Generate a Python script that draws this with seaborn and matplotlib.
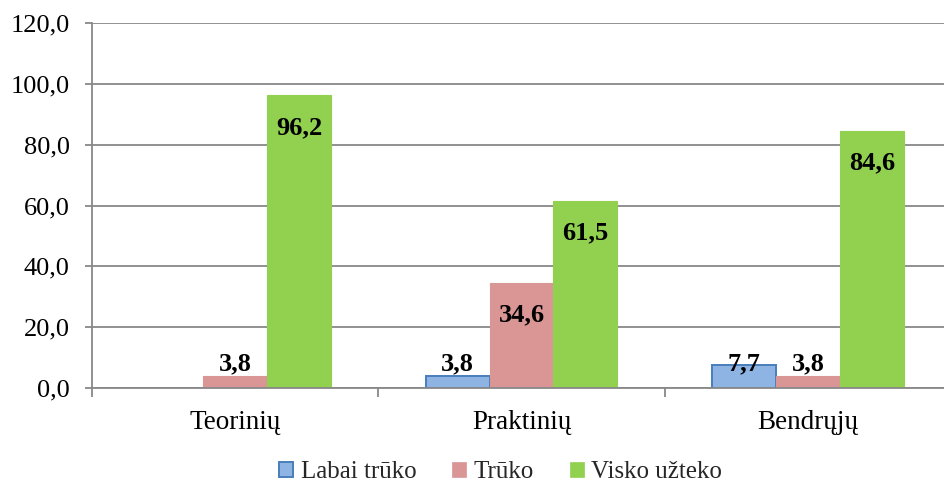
import matplotlib
matplotlib.use("Agg")
import matplotlib.pyplot as plt
import seaborn as sns
import pandas as pd
from matplotlib.patches import Patch
from matplotlib.ticker import FixedLocator

categories = ["Teorinių", "Praktinių", "Bendrųjų"]
series = ["Labai trūko", "Trūko", "Visko užteko"]
labai_truko = [0.0, 3.8, 7.7]
truko = [3.8, 34.6, 3.8]
visko_uzteko = [96.2, 61.5, 84.6]
y_ticks = [0, 20, 40, 60, 80, 100, 120]

fill_colors = ["#8EB4E3", "#D99694", "#92D050"]
edge_colors = ["#4A7EBB", "#D99694", "#92D050"]

rows = []
for s, vals in zip(series, [labai_truko, truko, visko_uzteko]):
    for c, v in zip(categories, vals):
        rows.append({"cat": c, "series": s, "val": v})
df = pd.DataFrame(rows)

sns.set_theme(style="white")
plt.rcParams["font.family"] = ["Liberation Serif", "DejaVu Serif"]

fig = plt.figure(figsize=(9.45, 4.91), dpi=100)
ax = fig.add_axes([92 / 945, 1 - 388 / 491, 859 / 945, 365 / 491])

sns.barplot(data=df, x="cat", y="val", hue="series", order=categories,
            hue_order=series, palette=fill_colors, saturation=1,
            width=0.67, dodge=True, ax=ax, legend=False, errorbar=None, zorder=3)

# style bars per series and add labels
for i, cont in enumerate(ax.containers):
    vals = df[df["series"] == series[i]].set_index("cat").loc[categories, "val"].tolist()
    for patch, v in zip(cont.patches, vals):
        if v == 0:
            patch.set_visible(False)
            continue
        patch.set_edgecolor(edge_colors[i])
        patch.set_linewidth(1.4 if i == 0 else 0.8)
        xc = patch.get_x() + patch.get_width() / 2
        lab = f"{v:.1f}".replace(".", ",")
        if v > 20:
            ax.annotate(lab, (xc, v), xytext=(0, -23), textcoords="offset points",
                        ha="center", va="center", fontsize=19, fontweight="bold",
                        color="black", zorder=5)
        else:
            ax.text(xc, 7.9, lab, ha="center", va="center", fontsize=19,
                    fontweight="bold", color="black", zorder=5)

ax.set_ylim(0, 120)
ax.set_xlim(-0.5, 2.5)
ax.set_yticks(y_ticks)
ax.set_yticklabels([f"{t:.1f}".replace(".", ",") for t in y_ticks], fontsize=19)
ax.set_xticks(range(len(categories)))
ax.set_xticklabels(categories, fontsize=19.5)
ax.xaxis.set_minor_locator(FixedLocator([-0.5, 0.5, 1.5, 2.5]))

grid_color = "#888888"
ax.yaxis.grid(True, color=grid_color, linewidth=1.3, zorder=0)
ax.set_axisbelow(True)
for side in ["top", "right"]:
    ax.spines[side].set_visible(False)
for side in ["left", "bottom"]:
    ax.spines[side].set_color(grid_color)
    ax.spines[side].set_linewidth(1.3)
    ax.spines[side].set_zorder(4)

ax.tick_params(axis="y", which="major", direction="out", length=5, width=1.3,
               color=grid_color, pad=11, left=True, labelcolor="black")
ax.tick_params(axis="x", which="major", length=0, pad=16, labelcolor="black")
ax.tick_params(axis="x", which="minor", direction="out", length=6.5, width=1.3,
               color=grid_color, bottom=True)
ax.set_xlabel("")
ax.set_ylabel("")

handles = [Patch(facecolor=fc, edgecolor=ec, linewidth=1.4 if i == 0 else 0.5)
           for i, (fc, ec) in enumerate(zip(fill_colors, edge_colors))]
fig.legend(handles, series, loc="center", bbox_to_anchor=(0.53, 1 - 472 / 491),
           ncol=3, frameon=False, fontsize=18, handlelength=0.55, handleheight=0.55,
           handletextpad=0.3, columnspacing=1.45, borderaxespad=0)

fig.savefig("out.png", dpi=100)
